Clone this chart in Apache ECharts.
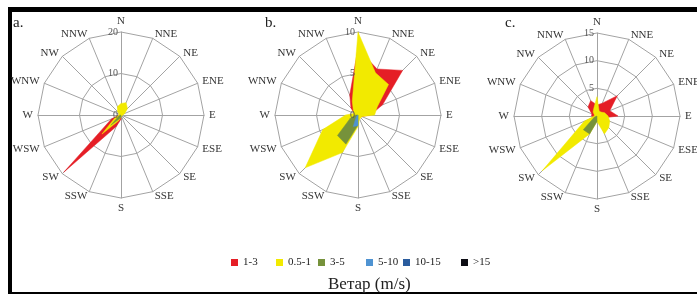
<!DOCTYPE html>
<html>
<head>
<meta charset="utf-8">
<title>Ветар</title>
<script src="https://cdn.jsdelivr.net/npm/echarts@6/dist/echarts.min.js"></script>
<style>
  body { margin: 0; background: #fff; }
  #frame { position: absolute; left: 8px; top: 7px; width: 700px; height: 280px;
           border-top: 5px solid #000; border-left: 4px solid #000; border-bottom: 2px solid #000; }
  #chart { position: absolute; left: 0; top: 0; width: 697px; height: 294px; }
</style>
</head>
<body>
<div id="frame"></div>
<div id="chart"></div>
<script>
// compass directions, clockwise from north
var directions = ['N', 'NNE', 'NE', 'ENE', 'E', 'ESE', 'SE', 'SSE', 'S', 'SSW', 'SW', 'WSW', 'W', 'WNW', 'NW', 'NNW'];
var panelNames = ['a.', 'b.', 'c.'];
var speedClasses = ['1-3', '0.5-1', '3-5', '5-10', '10-15', '>15'];

// panel a (0-20)
var aRed    = [0, 1, 0.5, 0, 0, 0, 0, 0, 1, 3, 19.5, 2.5, 0.5, 0, 0, 0.5];
var aYellow = [2.8, 3.2, 2.2, 1, 0.5, 0.3, 0.3, 0.3, 0.5, 1.5, 6.5, 1.5, 0.5, 0.5, 1.2, 2.2];
var aGreen  = [0, 0, 0, 0, 0, 0, 0, 0, 0.5, 1, 3.5, 0.5, 0, 0, 0, 0];
var aTicks  = [0, 10, 20];

// panel b (0-10)
var bRed    = [8, 6, 7.6, 3.2, 1.5, 0.5, 0.3, 0.3, 0.5, 1, 1, 0.5, 0.5, 0.5, 1.2, 2.6];
var bYellow = [10, 5.5, 5.2, 2.5, 2, 0.5, 0.5, 0.5, 1.4, 4.9, 9, 4.6, 1.5, 0.5, 0.8, 1.8];
var bGreen  = [0, 0, 0, 0, 0, 0, 0, 0, 1.2, 3.8, 3.5, 1, 0.3, 0, 0, 0];
var bBlue   = [0, 0, 0, 0, 0, 0, 0, 0, 1.3, 1.5, 0.3, 0, 0, 0, 0, 0];
var bTicks  = [0, 5, 10];

// panel c (0-15)
var cRed    = [2, 2.5, 5.2, 2.5, 3.8, 1, 0.5, 0, 0, 0.5, 1, 0.5, 1, 1, 2.3, 3];
var cYellow = [3.5, 1, 1, 1.5, 2, 2.5, 3, 3.5, 1, 3.5, 14, 2.5, 0.5, 0.5, 1, 1.5];
var cGreen  = [0, 0, 0, 0, 0, 0, 0, 0, 1, 3.5, 3.5, 0.5, 0, 0, 0, 0];
var cTicks  = [0, 5, 10, 15];

var zeros = directions.map(function () { return 0; });
var panels = [
  { ticks: aTicks, values: [aRed, aYellow, aGreen, zeros, zeros, zeros] },
  { ticks: bTicks, values: [bRed, bYellow, bGreen, bBlue, zeros, zeros] },
  { ticks: cTicks, values: [cRed, cYellow, cGreen, zeros, zeros, zeros] }
];

var colors = ['#e51e26', '#f2ea00', '#76923b', '#4f93d2', '#2a5c9e', '#0d0d14'];
var serif = "'Liberation Serif', 'Times New Roman', serif";
var centers = [[121, 115], [358, 115], [597, 116]];
var R = 83;

// radar draws counter-clockwise, so reverse after north
function clockwise(arr) {
  return [arr[0]].concat(arr.slice(1).reverse());
}

var radar = [], polar = [], angleAxis = [], radiusAxis = [], series = [], title = [];
panels.forEach(function (p, i) {
  var max = p.ticks[p.ticks.length - 1];
  var step = p.ticks[1] - p.ticks[0];
  radar.push({
    center: centers[i], radius: R, startAngle: 90, shape: 'polygon',
    splitNumber: p.ticks.length - 1,
    indicator: clockwise(directions).map(function (d) { return { name: d, max: max, min: 0 }; }),
    nameGap: 5,
    axisName: { color: '#333', fontSize: 11, fontFamily: serif },
    axisLine: { lineStyle: { color: '#a3a3a3', width: 1 } },
    splitLine: { lineStyle: { color: '#a3a3a3', width: 1 } },
    splitArea: { show: false },
    axisLabel: { show: false }
  });
  polar.push({ center: centers[i], radius: R });
  angleAxis.push({ polarIndex: i, type: 'value', startAngle: 90, show: false });
  radiusAxis.push({
    polarIndex: i, type: 'value', min: 0, max: max, interval: step, z: 20,
    axisLine: { show: false }, axisTick: { show: false }, splitLine: { show: false },
    axisLabel: { fontSize: 10, color: '#555', fontFamily: serif, margin: 3, showMinLabel: i !== 2 }
  });
  title.push({
    text: panelNames[i], left: [8, 260, 500][i], top: 11,
    textStyle: { fontSize: 15, fontWeight: 'normal', fontFamily: serif, color: '#222' }
  });
  speedClasses.forEach(function (name, k) {
    series.push({
      type: 'radar', radarIndex: i, name: name, symbol: 'none', silent: true,
      itemStyle: { color: colors[k] },
      lineStyle: { width: 0.5, color: colors[k] },
      areaStyle: { color: colors[k], opacity: 1 },
      data: [{ value: clockwise(p.values[k]) }]
    });
  });
});

title.push({
  text: 'Ветар (m/s)', left: 323, top: 271,
  textStyle: { fontSize: 17, fontWeight: 'normal', fontFamily: serif, color: '#222' }
});

var legendLeft = [226, 271, 313, 361, 398, 456];
var legend = speedClasses.map(function (name, k) {
  return {
    data: [name], left: legendLeft[k], top: 252, icon: 'rect',
    itemWidth: 7, itemHeight: 7, itemGap: 0, selectedMode: false,
    textStyle: { fontSize: 11, fontFamily: serif, color: '#222' }
  };
});

var myChart = echarts.init(document.getElementById('chart'));
myChart.setOption({
  animation: false,
  title: title,
  legend: legend,
  radar: radar,
  polar: polar,
  angleAxis: angleAxis,
  radiusAxis: radiusAxis,
  series: series
});
</script>
</body>
</html>
